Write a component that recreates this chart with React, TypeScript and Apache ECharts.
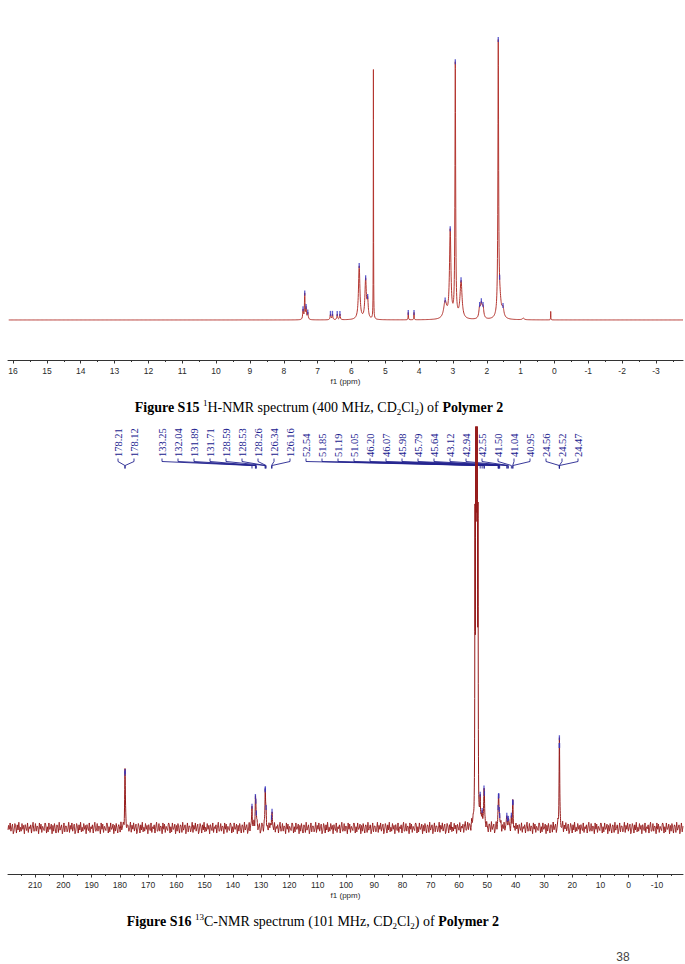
import React, { useEffect, useRef } from "react";
import * as echarts from "echarts";

// ---------- Figure S15: 1H-NMR (relative intensity, tallest = ~100) ----------
const H_PEAK_PPM = [7.43, 7.38, 7.34, 7.29, 6.62, 6.56, 6.42, 6.34, 5.77, 5.58, 5.52, 5.35, 4.32, 4.15, 3.23, 3.08, 2.93, 2.76, 2.21, 2.16, 2.11, 1.66, 1.62, 1.52, 0.92, 0.11];
const H_PEAK_HEIGHT = [3.5, 9, 4, 2.5, 2.2, 2.2, 2.2, 2.2, 19, 14, 6, 88.5, 2.6, 2.6, 6, 31, 90, 13.5, 4, 5, 4, 95, 7, 3, 0.6, 3];
const H_PEAK_HWHM = [0.012, 0.01, 0.012, 0.015, 0.012, 0.012, 0.012, 0.012, 0.025, 0.025, 0.02, 0.004, 0.006, 0.006, 0.05, 0.025, 0.012, 0.035, 0.025, 0.025, 0.025, 0.012, 0.05, 0.03, 0.03, 0.004];
const H_PICKED_PPM = [7.43, 7.38, 7.34, 7.29, 6.62, 6.56, 6.42, 6.34, 5.77, 5.58, 5.52, 4.32, 4.15, 3.23, 3.08, 2.93, 2.76, 2.21, 2.16, 2.11, 1.66, 1.62, 1.52];
const H_MAJOR_TICKS = [16, 15, 14, 13, 12, 11, 10, 9, 8, 7, 6, 5, 4, 3, 2, 1, 0, -1, -2, -3];
const H_MINOR_TICKS = [15.5, 14.5, 13.5, 12.5, 11.5, 10.5, 9.5, 8.5, 7.5, 6.5, 5.5, 4.5, 3.5, 2.5, 1.5, 0.5, -0.5, -1.5, -2.5, -3.5];
const H_AXIS_RANGE = [-3.8, 16.15];
const H_Y_RANGE = [-14.2, 106.4];

// ---------- Figure S16: 13C-NMR ----------
const C_PEAK_PPM = [178.21, 178.12, 133.25, 132.04, 131.89, 131.71, 128.59, 128.53, 128.26, 126.34, 126.16, 52.54, 51.85, 51.19, 51.05, 46.2, 46.07, 45.98, 45.79, 45.64, 43.12, 42.94, 42.55, 41.5, 41.04, 40.95, 24.56, 24.52, 24.47];
const C_PEAK_HEIGHT = [38, 38, 25, 26, 15, 10, 25, 20, 14, 12, 12, 30, 15, 32, 28, 8, 14, 20, 12, 8, 10, 12, 8, 10, 14, 14, 36, 36, 36];
const C_PEAK_HWHM = 0.12;
const C_SOLVENT_PPM = [54.38, 54.11, 53.84, 53.57, 53.3];
const C_SOLVENT_HEIGHT = [300, 600, 900, 600, 300];
const C_SOLVENT_HWHM = 0.07;
const C_NOISE = [0.3, -0.6, 0.8, -0.2, -0.9, 0.5, 0.1, -0.4, 0.9, -0.7, 0.2, 0.6, -0.8, -0.1, 0.7, -0.5, 0.4, -0.9, 0.6, 0.0, -0.3, 0.8, -0.6, 0.2, -0.8, 0.5, 0.9, -0.4, -0.1, 0.3, -0.7, 0.6, -0.2, 0.8, -0.9, 0.1, 0.4, -0.5, 0.7, -0.3, -0.6, 0.9, 0.2, -0.8, 0.5, -0.1, 0.3, -0.7, 0.8, -0.4, 0.0, 0.6, -0.9, 0.4, -0.2, 0.7, -0.5, 0.1, -0.6, 0.9, -0.3, 0.5, -0.8, 0.2, 0.7, -0.4, -0.9, 0.6, 0.1, -0.5, 0.8, -0.2, 0.4, -0.7, 0.9, -0.1, -0.6, 0.3];
const C_NOISE_STEP = 0.28;
const C_NOISE_AMP = 7;
const C_MAJOR_TICKS = [210, 200, 190, 180, 170, 160, 150, 140, 130, 120, 110, 100, 90, 80, 70, 60, 50, 40, 30, 20, 10, 0, -10];
const C_MINOR_TICKS = [215, 205, 195, 185, 175, 165, 155, 145, 135, 125, 115, 105, 95, 85, 75, 65, 55, 45, 35, 25, 15, 5, -5, -15];
const C_AXIS_RANGE = [-19.2, 219.55];
const C_Y_RANGE = [-51.1, 445.6];

// label layout (groups of peak labels, evenly spaced)
const LABEL_GROUP_SIZES = [2, 27];
const LABEL_GROUP_START = [118, 162];
const LABEL_SPACING = 16;

const SERIF = '"Liberation Serif", "Times New Roman", serif';
const SANS = '"Liberation Sans", Arial, sans-serif';
const AXIS_COLOR = "#333333";
const TICK_LABEL_COLOR = "#2a2a2a";
const H_LINE_COLOR = "#b3352f";
const C_LINE_COLOR = "#951a1a";
const MARK_BLUE = "#3535c0";
const LABEL_BLUE = "#22228f";

function lorentz(ppms: number[], heights: number[], hwhm: number[] | number, x: number) {
  let s = 0;
  for (let i = 0; i < ppms.length; i++) {
    const w = Array.isArray(hwhm) ? hwhm[i] : hwhm;
    const d = (x - ppms[i]) / w;
    s += heights[i] / (1 + d * d);
  }
  return s;
}

function hSignal(x: number) {
  return lorentz(H_PEAK_PPM, H_PEAK_HEIGHT, H_PEAK_HWHM, x);
}

function cNoise(x: number) {
  const t = (x - C_AXIS_RANGE[0]) / C_NOISE_STEP;
  const i = Math.floor(t);
  const f = t - i;
  const n = C_NOISE.length;
  const a = C_NOISE[((i % n) + n) % n];
  const b = C_NOISE[(((i + 1) % n) + n) % n];
  return (a * (1 - f) + b * f) * C_NOISE_AMP;
}

function cSignal(x: number) {
  return (
    lorentz(C_PEAK_PPM, C_PEAK_HEIGHT, C_PEAK_HWHM, x) +
    lorentz(C_SOLVENT_PPM, C_SOLVENT_HEIGHT, C_SOLVENT_HWHM, x) +
    cNoise(x)
  );
}

function sampleGrid(range: number[], step: number, extra: number[]) {
  const xs: number[] = [];
  const n = Math.floor((range[1] - range[0]) / step);
  for (let i = 0; i <= n; i++) xs.push(range[0] + i * step);
  extra.forEach((p) => xs.push(p));
  xs.sort((a, b) => a - b);
  return xs;
}

function labelSlotX(index: number) {
  let start = 0;
  for (let g = 0; g < LABEL_GROUP_SIZES.length; g++) {
    if (index < start + LABEL_GROUP_SIZES[g]) {
      return LABEL_GROUP_START[g] + (index - start) * LABEL_SPACING;
    }
    start += LABEL_GROUP_SIZES[g];
  }
  return 0;
}

function makeXAxes(gridIndex: number, range: number[], major: number[], minor: number[]) {
  return [
    {
      type: "value",
      gridIndex,
      min: range[0],
      max: range[1],
      inverse: true,
      position: "bottom",
      axisLine: { show: true, onZero: false, lineStyle: { color: AXIS_COLOR, width: 1 } },
      axisTick: { show: true, customValues: major, length: 3.5, lineStyle: { color: AXIS_COLOR, width: 1 } },
      axisLabel: {
        show: true,
        customValues: major,
        formatter: (v: number) => String(Math.round(v)),
        color: TICK_LABEL_COLOR,
        fontSize: 8.5,
        fontFamily: SANS,
        margin: 6.5,
      },
      splitLine: { show: false },
      name: "f1 (ppm)",
      nameLocation: "middle",
      nameGap: 17,
      nameTextStyle: { fontSize: 8, fontFamily: SANS, color: TICK_LABEL_COLOR },
    },
    {
      type: "value",
      gridIndex,
      min: range[0],
      max: range[1],
      inverse: true,
      position: "bottom",
      axisLine: { show: false, onZero: false },
      axisTick: { show: true, customValues: minor, length: 2, lineStyle: { color: AXIS_COLOR, width: 1 } },
      axisLabel: { show: false },
      splitLine: { show: false },
    },
  ];
}

function caption(x: number, y: number, text: string) {
  return {
    type: "text",
    x,
    y,
    silent: true,
    style: {
      text,
      fontSize: 14,
      fontFamily: SERIF,
      fill: "#000",
      align: "center",
      verticalAlign: "middle",
      lineHeight: 18,
      rich: {
        b: { fontSize: 14, fontFamily: SERIF, fontWeight: "bold", fill: "#000", lineHeight: 18 },
        sup: { fontSize: 9, fontFamily: SERIF, fill: "#000", verticalAlign: "top", lineHeight: 11 },
        sub: { fontSize: 9, fontFamily: SERIF, fill: "#000", verticalAlign: "bottom", lineHeight: 9 },
      },
    },
  };
}

function buildOption() {
  const hXs = sampleGrid(H_AXIS_RANGE, 0.004, H_PEAK_PPM);
  const hData = hXs.map((x) => [x, hSignal(x)]);
  const cXs = sampleGrid(C_AXIS_RANGE, 0.035, C_PEAK_PPM.concat(C_SOLVENT_PPM));
  const cData = cXs.map((x) => [x, cSignal(x)]);

  return {
    animation: false,
    backgroundColor: "#ffffff",
    grid: [
      { left: 8, right: 2, top: 20, height: 340 },
      { left: 8, right: 2, top: 427, height: 447 },
    ],
    xAxis: [
      ...makeXAxes(0, H_AXIS_RANGE, H_MAJOR_TICKS, H_MINOR_TICKS),
      ...makeXAxes(1, C_AXIS_RANGE, C_MAJOR_TICKS, C_MINOR_TICKS),
    ],
    yAxis: [
      { type: "value", gridIndex: 0, min: H_Y_RANGE[0], max: H_Y_RANGE[1], show: false },
      { type: "value", gridIndex: 1, min: C_Y_RANGE[0], max: C_Y_RANGE[1], show: false },
    ],
    series: [
      {
        type: "line",
        name: "1H",
        xAxisIndex: 0,
        yAxisIndex: 0,
        data: hData,
        showSymbol: false,
        symbol: "none",
        silent: true,
        z: 3,
        lineStyle: { color: H_LINE_COLOR, width: 1 },
      },
      {
        type: "scatter",
        xAxisIndex: 0,
        yAxisIndex: 0,
        data: H_PICKED_PPM.map((p) => [p, hSignal(p)]),
        symbol: "rect",
        symbolSize: [1.3, 5],
        silent: true,
        z: 4,
        itemStyle: { color: MARK_BLUE },
      },
      {
        type: "line",
        name: "13C",
        xAxisIndex: 2,
        yAxisIndex: 1,
        data: cData,
        showSymbol: false,
        symbol: "none",
        silent: true,
        z: 3,
        lineStyle: { color: C_LINE_COLOR, width: 1 },
      },
      {
        type: "scatter",
        xAxisIndex: 2,
        yAxisIndex: 1,
        data: C_PEAK_PPM.map((p) => [p, cSignal(p)]),
        symbol: "rect",
        symbolSize: [1.3, 5],
        silent: true,
        z: 4,
        itemStyle: { color: MARK_BLUE },
      },
      {
        type: "custom",
        xAxisIndex: 2,
        yAxisIndex: 1,
        silent: true,
        z: 2,
        data: C_PEAK_PPM.map((p, i) => [p, 0, i]),
        renderItem: (params: any, api: any) => {
          const ppm = api.value(0);
          const idx = api.value(2);
          const peakX = api.coord([ppm, 0])[0];
          const sx = labelSlotX(idx);
          return {
            type: "group",
            children: [
              {
                type: "text",
                x: sx,
                y: 457,
                rotation: Math.PI / 2,
                style: {
                  text: C_PEAK_PPM[idx].toFixed(2),
                  fill: LABEL_BLUE,
                  font: '10.5px "Liberation Serif", "Times New Roman", serif',
                  align: "left",
                  verticalAlign: "middle",
                },
              },
              {
                type: "polyline",
                shape: { points: [[sx, 458.5], [sx, 461.5], [peakX, 465.5], [peakX, 468.5]] },
                style: { stroke: LABEL_BLUE, lineWidth: 0.9, fill: null },
              },
            ],
          };
        },
      },
    ],
    graphic: [
      caption(319, 407, "{b|Figure S15} {sup|1}H-NMR spectrum (400 MHz, CD{sub|2}Cl{sub|2}) of {b|Polymer 2}"),
      caption(313, 921, "{b|Figure S16} {sup|13}C-NMR spectrum (101 MHz, CD{sub|2}Cl{sub|2}) of {b|Polymer 2}"),
      {
        type: "text",
        x: 623,
        y: 957,
        silent: true,
        style: { text: "38", fontSize: 12, fontFamily: SANS, fill: "#444", align: "center", verticalAlign: "middle" },
      },
    ],
  };
}

export default function App() {
  const ref = useRef<HTMLDivElement>(null);
  useEffect(() => {
    if (!ref.current) return;
    const chart = echarts.init(ref.current, undefined, { renderer: "svg" });
    chart.setOption(buildOption() as any);
    return () => chart.dispose();
  }, []);
  return (
    <div
      ref={ref}
      style={{ position: "absolute", left: 0, top: 0, width: 685, height: 964, background: "#ffffff" }}
    />
  );
}
